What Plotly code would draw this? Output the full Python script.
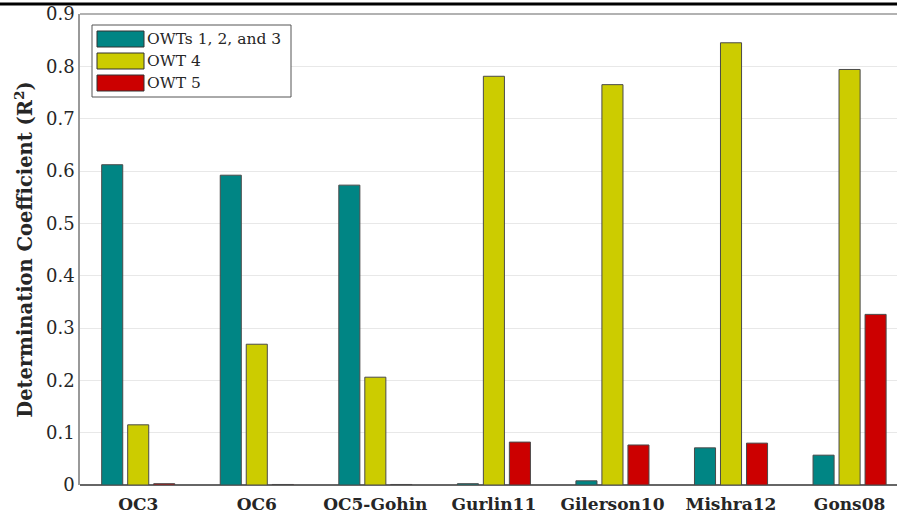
import plotly.graph_objects as go

categories = ["OC3", "OC6", "OC5-Gohin", "Gurlin11", "Gilerson10", "Mishra12", "Gons08"]
series_names = ["OWTs 1, 2, and 3", "OWT 4", "OWT 5"]
owt123 = [0.612, 0.592, 0.573, 0.0025, 0.008, 0.071, 0.057]
owt4 = [0.115, 0.269, 0.206, 0.781, 0.765, 0.845, 0.794]
owt5 = [0.0025, 0.001, 0.001, 0.082, 0.0765, 0.080, 0.326]
colors = ["#008584", "#cccc00", "#cc0000"]
yticks = [0, 0.1, 0.2, 0.3, 0.4, 0.5, 0.6, 0.7, 0.8, 0.9]

FONT = "DejaVu Serif"
W, H = 897, 516
L, R, T, B = 80, 0, 14, 31
pw, ph = W - L - R, H - T - B

fig = go.Figure()
for name, vals, c in zip(series_names, [owt123, owt4, owt5], colors):
    fig.add_trace(go.Bar(
        x=list(range(len(categories))), y=vals, name=name,
        marker=dict(color=c, line=dict(color="#4a4a4a", width=1)),
        showlegend=False,
    ))

def px_x(x):
    return (x - L) / pw

def px_y(y):
    return (H - B - y) / ph

shapes = []
# top thick black line across whole page
shapes.append(dict(type="line", xref="paper", yref="paper",
                   x0=px_x(0), x1=px_x(W), y0=px_y(4), y1=px_y(4),
                   line=dict(color="black", width=3)))
# top gray border of axes
shapes.append(dict(type="line", xref="paper", yref="paper",
                   x0=0, x1=1, y0=1, y1=1,
                   line=dict(color="#999999", width=1.5)))
# legend box
shapes.append(dict(type="rect", xref="paper", yref="paper",
                   x0=px_x(92), x1=px_x(291), y0=px_y(97), y1=px_y(25),
                   line=dict(color="#555555", width=1), fillcolor="white"))
annotations = []
rows = [(31, 47), (53, 69), (75, 91)]
for (y0, y1), name, c in zip(rows, series_names, colors):
    shapes.append(dict(type="rect", xref="paper", yref="paper",
                       x0=px_x(97), x1=px_x(144), y0=px_y(y1), y1=px_y(y0),
                       line=dict(color="#333333", width=1), fillcolor=c))
    annotations.append(dict(xref="paper", yref="paper", x=px_x(145),
                            y=px_y((y0 + y1) / 2), text=name, showarrow=False,
                            xanchor="left", yanchor="middle",
                            font=dict(family=FONT, size=15.5, color="#262626")))

fig.update_layout(
    width=W, height=H,
    margin=dict(l=L, r=R, t=T, b=B),
    paper_bgcolor="white", plot_bgcolor="white",
    barmode="group", bargap=0.342, bargroupgap=0.19,
    shapes=shapes, annotations=annotations,
    font=dict(family=FONT, color="#262626"),
    xaxis=dict(
        range=[-0.491, 6.4], tickmode="array",
        tickvals=list(range(len(categories))),
        ticktext=["<b>%s</b>" % c for c in categories],
        tickfont=dict(family=FONT, size=17, color="#262626"),
        ticklabelstandoff=7,
        showgrid=False, zeroline=False, showline=False, ticks="",
    ),
    yaxis=dict(
        range=[0, 0.9], tickmode="array", tickvals=yticks,
        ticktext=["0" if v == 0 else ("%.1f" % v) for v in yticks],
        tickfont=dict(family=FONT, size=18, color="#262626"),
        showgrid=True, gridcolor="#e8e8e8", gridwidth=1,
        zeroline=True, zerolinecolor="#666666", zerolinewidth=1.5,
        showline=True, linecolor="#999999", linewidth=1.5,
        ticks="", ticklen=0,
        title=dict(text="<b>Determination Coefficient (R<sup>2</sup>)</b>",
                   font=dict(family=FONT, size=19.5, color="#262626"), standoff=8),
    ),
)

fig.write_html("out.html", config={"displayModeBar": False},
               post_script="document.body.style.margin='0';document.body.style.overflow='hidden';")
